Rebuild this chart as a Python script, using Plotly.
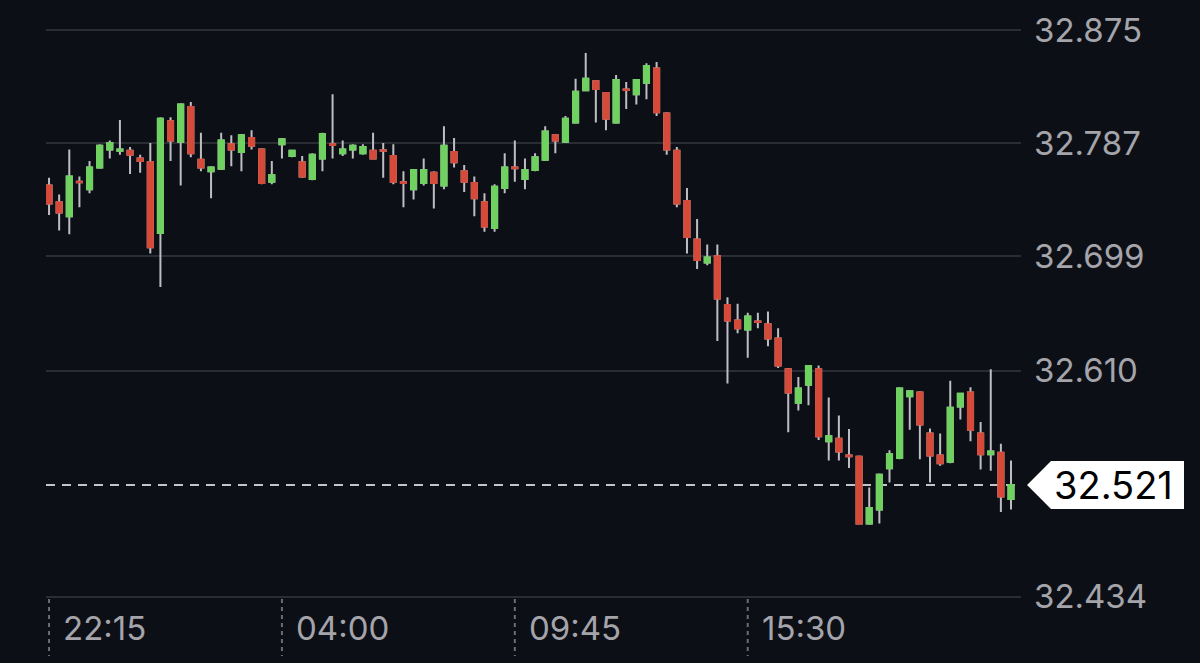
import pandas as pd
import plotly.graph_objects as go

# 15-minute candles, first one at 22:15
start_time = "2024-03-11 22:15"

open_ = [
    32.754, 32.741, 32.730, 32.757, 32.751, 32.768, 32.782, 32.781, 32.781, 32.775,
    32.772, 32.717, 32.804, 32.788, 32.815, 32.774, 32.765, 32.767, 32.786, 32.780,
    32.791, 32.782, 32.757, 32.786, 32.777, 32.772, 32.759, 32.775, 32.786, 32.779,
    32.782, 32.779, 32.781, 32.7815, 32.777, 32.7565, 32.751, 32.756, 32.764, 32.754,
    32.780, 32.765, 32.756, 32.741, 32.721, 32.752, 32.768, 32.759, 32.766, 32.774,
    32.793, 32.788, 32.803, 32.828, 32.835, 32.826, 32.803, 32.8287, 32.825, 32.834,
    32.845, 32.810, 32.781, 32.742, 32.712, 32.694, 32.699, 32.661, 32.649, 32.642,
    32.6482, 32.646, 32.635, 32.611, 32.585, 32.599, 32.611, 32.555, 32.557, 32.5439,
    32.543, 32.491, 32.502, 32.534, 32.542, 32.590, 32.593, 32.561, 32.544, 32.539,
    32.582, 32.593, 32.561, 32.545, 32.546, 32.510,
]
high = [
    32.760, 32.747, 32.782, 32.761, 32.773, 32.786, 32.789, 32.805, 32.784, 32.778,
    32.787, 32.807, 32.807, 32.818, 32.819, 32.795, 32.769, 32.795, 32.793, 32.794,
    32.797, 32.783, 32.773, 32.791, 32.781, 32.777, 32.779, 32.795, 32.825, 32.789,
    32.786, 32.786, 32.795, 32.787, 32.786, 32.765, 32.7665, 32.775, 32.765, 32.800,
    32.791, 32.770, 32.761, 32.748, 32.755, 32.779, 32.789, 32.775, 32.779, 32.800,
    32.7935, 32.808, 32.837, 32.857, 32.8355, 32.8265, 32.840, 32.8345, 32.8365, 32.849,
    32.850, 32.811, 32.784, 32.752, 32.728, 32.708, 32.708, 32.667, 32.662, 32.655,
    32.655, 32.656, 32.643, 32.612, 32.605, 32.614, 32.614, 32.589, 32.575, 32.5645,
    32.544, 32.519, 32.530, 32.548, 32.597, 32.5945, 32.594, 32.565, 32.561, 32.602,
    32.592, 32.597, 32.570, 32.611, 32.553, 32.540,
]
low = [
    32.731, 32.719, 32.716, 32.737, 32.748, 32.767, 32.775, 32.778, 32.763, 32.764,
    32.701, 32.675, 32.773, 32.754, 32.776, 32.765, 32.744, 32.766, 32.769, 32.765,
    32.782, 32.755, 32.755, 32.775, 32.776, 32.760, 32.758, 32.765, 32.775, 32.777,
    32.775, 32.778, 32.7745, 32.760, 32.755, 32.737, 32.743, 32.754, 32.736, 32.751,
    32.768, 32.749, 32.730, 32.718, 32.718, 32.748, 32.757, 32.751, 32.765, 32.773,
    32.779, 32.787, 32.802, 32.8275, 32.803, 32.797, 32.802, 32.8135, 32.817, 32.821,
    32.808, 32.778, 32.737, 32.701, 32.689, 32.692, 32.633, 32.600, 32.639, 32.620,
    32.643, 32.629, 32.612, 32.562, 32.579, 32.583, 32.556, 32.540, 32.540, 32.5342,
    32.4905, 32.490, 32.491, 32.523, 32.541, 32.564, 32.541, 32.523, 32.536, 32.538,
    32.572, 32.555, 32.533, 32.532, 32.500, 32.502,
]
close = [
    32.740, 32.733, 32.761, 32.7565, 32.768, 32.785, 32.787, 32.782, 32.778, 32.773,
    32.706, 32.806, 32.789, 32.817, 32.779, 32.768, 32.768, 32.789, 32.782, 32.793,
    32.785, 32.756, 32.762, 32.790, 32.781, 32.761, 32.778, 32.794, 32.7855, 32.782,
    32.785, 32.784, 32.775, 32.781, 32.757, 32.756, 32.766, 32.766, 32.756, 32.785,
    32.772, 32.757, 32.744, 32.722, 32.753, 32.768, 32.7675, 32.766, 32.776, 32.796,
    32.789, 32.806, 32.827, 32.837, 32.829, 32.806, 32.836, 32.8282, 32.836, 32.847,
    32.811, 32.782, 32.740, 32.714, 32.696, 32.698, 32.666, 32.649, 32.643, 32.652,
    32.6477, 32.635, 32.614, 32.593, 32.596, 32.6135, 32.559, 32.559, 32.547, 32.5434,
    32.491, 32.503, 32.529, 32.545, 32.596, 32.594, 32.568, 32.544, 32.538, 32.581,
    32.592, 32.564, 32.545, 32.547, 32.512, 32.521,
]

y_ticks = [32.434, 32.610, 32.699, 32.787, 32.875]
x_tick_labels = ["22:15", "04:00", "09:45", "15:30"]

BG = "#0d0f17"
GRID = "#2b2d35"
LABEL = "#a4a4aa"
GREEN = "#6fd160"
RED = "#d64a39"
WICK = "#bdbdc2"

times = pd.date_range(start_time, periods=len(close), freq="15min")
tick_times = [t for t in times if t.strftime("%H:%M") in x_tick_labels]
last = close[-1]

body_hi = [max(o, c) for o, c in zip(open_, close)]
body_lo = [min(o, c) for o, c in zip(open_, close)]

fig = go.Figure()

# wicks (grey) underneath
fig.add_trace(go.Candlestick(
    x=times, open=open_, high=high, low=low, close=close,
    increasing=dict(line=dict(color=WICK, width=2), fillcolor=WICK),
    decreasing=dict(line=dict(color=WICK, width=2), fillcolor=WICK),
    whiskerwidth=0, hoverinfo="skip", showlegend=False,
))
# coloured bodies on top
fig.add_trace(go.Candlestick(
    x=times, open=open_, high=body_hi, low=body_lo, close=close,
    increasing=dict(line=dict(color=GREEN, width=2), fillcolor=GREEN),
    decreasing=dict(line=dict(color=RED, width=2), fillcolor=RED),
    whiskerwidth=0, hoverinfo="skip", showlegend=False,
))

# last price dashed line
fig.add_shape(type="line", xref="paper", yref="y", x0=0, x1=1, y0=last, y1=last,
              line=dict(color="#c4c4c8", width=2, dash="9px,7px"), layer="between")

# dotted time markers below the plot
for t, lab in zip(tick_times, x_tick_labels):
    fig.add_shape(type="line", xref="x", yref="paper", x0=t, x1=t, y0=0, y1=-0.095,
                  line=dict(color="#6c6e74", width=2, dash="4px,4px"))
    fig.add_annotation(x=t, y=0, xref="x", yref="paper", text=lab, showarrow=False,
                       xanchor="left", yanchor="middle", xshift=12, yshift=-29,
                       font=dict(family="Inter", size=33, color=LABEL))

# price tag
dy = 0.01867
fig.add_shape(type="path", xref="paper", yref="y",
              path=f"M 1.0062 {last} L 1.0308 {last + dy} L 1.1672 {last + dy} "
                   f"L 1.1672 {last - dy} L 1.0308 {last - dy} Z",
              fillcolor="white", line=dict(width=0))
fig.add_annotation(x=1.0944, y=last, xref="paper", yref="y", text=f"{last:.3f}",
                   showarrow=False, xanchor="center", yanchor="middle",
                   font=dict(family="Inter", size=38, color="black"))

fig.update_layout(
    width=1200, height=663,
    margin=dict(l=46, r=179, t=0, b=64),
    paper_bgcolor=BG, plot_bgcolor=BG,
    hovermode=False, showlegend=False,
    boxgap=0.28,
    xaxis=dict(
        range=[times[0] - pd.Timedelta(minutes=4.5), times[-1] + pd.Timedelta(minutes=14.8)],
        showgrid=False, zeroline=False, showticklabels=False, ticks="",
        rangeslider=dict(visible=False),
    ),
    yaxis=dict(
        side="right", range=[32.4323, 32.8983],
        tickvals=y_ticks, ticktext=[f"{v:.3f}" for v in y_ticks],
        showgrid=True, gridcolor=GRID, gridwidth=2, zeroline=False, ticks="",
        tickfont=dict(family="Inter", size=33, color=LABEL),
        ticklabelstandoff=12,
    ),
)

fig.write_html("out.html", config={"displayModeBar": False},
               post_script="document.body.style.margin='0';"
                           "document.body.style.background='" + BG + "';")
